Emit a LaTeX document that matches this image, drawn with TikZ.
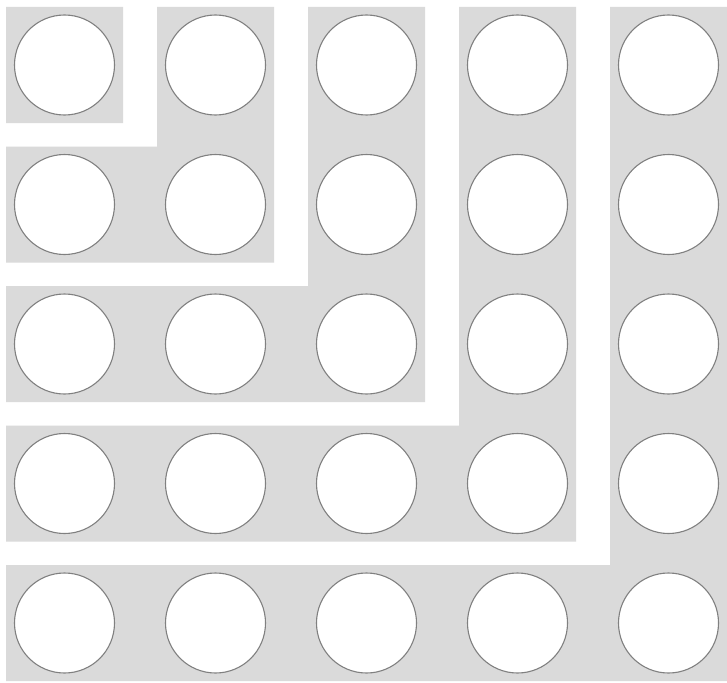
\documentclass[tikz,border=0pt]{standalone}
\usepackage{tikz}
\definecolor{bandgray}{RGB}{218,218,218}
\definecolor{ringgray}{RGB}{128,128,128}
\tikzset{
  band/.style={fill=bandgray, draw=none},
  dot/.style={circle, draw=ringgray, line width=1.1pt, fill=white, minimum size=100pt, inner sep=0pt}
}
\begin{document}
\begin{tikzpicture}[x=1pt,y=-1pt]
\useasboundingbox (0,0) rectangle (727,682);
\fill[white] (0,0) rectangle (727,682);
% L-shaped bands
\foreach \k in {1,...,5}{
  \pgfmathsetmacro{\cx}{64.5+151*(\k-1)}
  \pgfmathsetmacro{\cy}{65+139.5*(\k-1)}
  \fill[band] (\cx-58.5,7) -- (\cx+58.5,7) -- (\cx+58.5,\cy+58) -- (6,\cy+58) -- (6,\cy-58) -- (\cx-58.5,\cy-58) -- cycle;
}
% circles
\foreach \r in {1,...,5}{
  \foreach \c in {1,...,5}{
    \node[dot] (n\r-\c) at ({64.5+151*(\c-1)},{65+139.5*(\r-1)}) {};
  }
}
\end{tikzpicture}
\end{document}
